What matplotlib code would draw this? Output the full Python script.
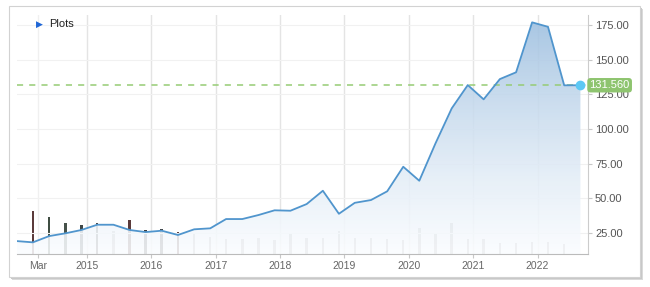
import matplotlib

matplotlib.use("Agg")
import matplotlib.pyplot as plt
import matplotlib.dates as mdates
import numpy as np
import pandas as pd
from matplotlib.patches import FancyBboxPatch
from matplotlib.colors import LinearSegmentedColormap

plt.rcParams["font.family"] = ["Liberation Sans", "DejaVu Sans"]

# quarterly closes, Dec 2013 .. Sep 2022
dates = pd.date_range("2013-12-01", periods=36, freq="QS-DEC")
price = [19.2, 18.3, 22.8, 24.8, 27.2, 31.0, 31.0, 27.2, 25.7, 26.7, 23.6, 27.7,
         28.4, 35.1, 35.1, 38.0, 41.4, 41.1, 45.9, 55.5, 38.9, 46.8, 48.8, 55.1,
         72.8, 62.7, 89.7, 114.9, 131.7, 121.4, 136.0, 140.9, 176.9, 173.7, 131.5, 131.56]
# relative volume (no axis in the original), one per quarter, none for first/last
volume = [0, 43.3, 36.7, 30.7, 28.7, 31.3, 23.3, 34.0, 23.7, 24.7, 22.0, 20.7,
          17.3, 14.7, 14.7, 15.7, 14.0, 20.0, 15.7, 15.7, 23.0, 16.3, 15.7, 14.7,
          14.0, 26.3, 20.0, 31.3, 15.3, 14.7, 10.7, 10.7, 11.7, 12.3, 10.0, 0]
vol_colors = {1: "#5b3b3b", 2: "#3f4d42", 3: "#46524a", 4: "#3e4646", 5: "#4a4a4a",
              7: "#5b3b3b", 8: "#3e3e3e", 9: "#404040", 10: "#5b3b3b"}
last_value = 131.56
yticks = [25, 50, 75, 100, 125, 150, 175]
xtick_dates = ["2014-04-01", "2015-01-01", "2016-01-01", "2017-01-01", "2018-01-01",
               "2019-01-01", "2020-01-01", "2021-01-01", "2022-01-01"]
xtick_labels = ["Mar", "2015", "2016", "2017", "2018", "2019", "2020", "2021", "2022"]

W, H = 650, 287
fig = plt.figure(figsize=(W / 100, H / 100), dpi=100)
fig.patch.set_facecolor("white")

# card frame with drop shadow
for off, col in [(3, "#dadada"), (2, "#c8c8c8"), (1, "#b4b4b4")]:
    fig.patches.append(FancyBboxPatch((9 / W + off / W, 1 - 277 / H - off / H), 631 / W, 271 / H,
                                      boxstyle="square,pad=0", transform=fig.transFigure,
                                      facecolor=col, edgecolor="none", zorder=0))
fig.patches.append(FancyBboxPatch((9 / W, 1 - 277 / H), 631 / W, 271 / H,
                                  boxstyle="square,pad=0", transform=fig.transFigure,
                                  facecolor="white", edgecolor="#d2d2d2", lw=0.8, zorder=1))

ax = fig.add_axes([17 / W, 1 - 254 / H, 571 / W, 239 / H])
ax.set_zorder(3)
ax.patch.set_alpha(0)
x = mdates.date2num(dates)
xmin = mdates.date2num(pd.Timestamp("2013-12-01"))
xmax = mdates.date2num(pd.Timestamp("2022-10-14"))
ymin, ymax = 9.9, 182.2

# volume bars on a hidden twin so they share the bottom
axv = fig.add_axes(ax.get_position())
axv.set_zorder(2)
axv.set_xlim(xmin, xmax)
axv.set_ylim(0, 239)
axv.axis("off")
for i, v in enumerate(volume):
    if v > 0:
        axv.bar(x[i], v, width=14, color=vol_colors.get(i, "#a9a9a9"), lw=0)

# grid
for d in xtick_dates:
    ax.axvline(mdates.date2num(pd.Timestamp(d)), color="#f0f0f0" if d.endswith("04-01") else "#e4e4e4",
               lw=1, zorder=0)
for t in yticks:
    ax.axhline(t, color="#f1f1f1", lw=0.8, zorder=0)

# gradient area, semi-opaque so bars underneath fade out
cmap = LinearSegmentedColormap.from_list("area", ["#fbfdff", "#e3edf7", "#c3d8ec", "#9dbfe0"])
grad = np.linspace(0, 1, 256).reshape(-1, 1)
poly = ax.fill_between(x, price, ymin, color="none", lw=0)
img = ax.imshow(grad, cmap=cmap, aspect="auto", origin="lower",
                extent=[xmin, xmax, ymin, 178], zorder=2, alpha=0.88)
img.set_clip_path(poly.get_paths()[0], transform=ax.transData)
ax.plot(x, price, color="#5095cd", lw=1.3, zorder=4)

# last value line, marker and label
ax.axhline(last_value, color="#96cc74", lw=1.1, ls=(0, (4, 4)), zorder=3)
ax.plot(x[-1], last_value, "o", ms=6, color="#5cc8f4", zorder=6, clip_on=False)
ax.text(1.0 + 1.5 / 571, (last_value - ymin) / (ymax - ymin), f"{last_value:.3f}",
        transform=ax.transAxes, ha="left", va="center", color="white", fontsize=8,
        bbox=dict(boxstyle="round,pad=0.2,rounding_size=0.3", fc="#8ec46f", ec="none"),
        zorder=7, clip_on=False)

ax.set_xlim(xmin, xmax)
ax.set_ylim(ymin, ymax)
ax.yaxis.tick_right()
ax.set_yticks(yticks)
ax.set_yticklabels([f"{t:.2f}" for t in yticks])
ax.set_xticks([mdates.date2num(pd.Timestamp(d)) for d in xtick_dates])
ax.set_xticklabels(xtick_labels)
ax.tick_params(axis="y", colors="#c8c8c8", labelcolor="#555555", labelsize=8, length=3, pad=2)
ax.tick_params(axis="x", colors="#c8c8c8", labelcolor="#666666", labelsize=7.5, length=3, pad=2)
for s in ["top", "left"]:
    ax.spines[s].set_visible(False)
ax.spines["right"].set_color("#cccccc")
ax.spines["bottom"].set_color("#bbbbbb")

# legend-like header
fig.text(36 / W, 1 - 24 / H, "\u25B6", color="#1f66d6", fontsize=6.5, va="center", ha="left")
fig.text(49 / W, 1 - 24 / H, "Plots", color="#222222", fontsize=8, va="center", ha="left")

fig.savefig("out.png", dpi=100)
